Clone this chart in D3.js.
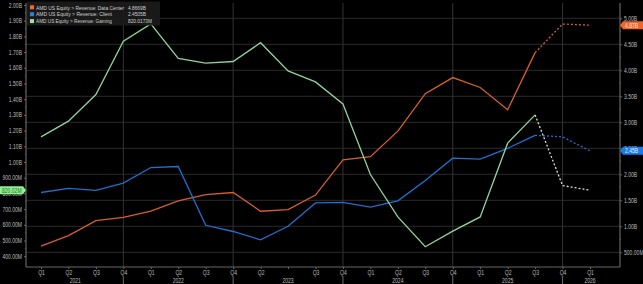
<!DOCTYPE html>
<html>
<head>
<meta charset="utf-8">
<script src="https://cdn.jsdelivr.net/npm/d3@7"></script>
<style>
  html, body { margin: 0; padding: 0; background: #000; }
  svg { display: block; }
  text { font-family: "Liberation Sans", Arial, sans-serif; }
</style>
</head>
<body>
<script>
// chart size
let width = 643,
    height = 284;

// x axis: one slot per quarter, Q1 2021 .. Q1 2026
var quarterLabels = ["Q1","Q2","Q3","Q4","Q1","Q2","Q3","Q4","Q2","","Q3","Q4","Q1","Q2","Q3","Q4","Q1","Q2","Q3","Q4","Q1"];
var yearLabels = [
    { label: "2021", at: 1.25 },
    { label: "2022", at: 5 },
    { label: "2023", at: 9 },
    { label: "2024", at: 13 },
    { label: "2025", at: 17 },
    { label: "2026", at: 20 }
];
var yearBreaks = [3, 7, 11, 15, 19];

// reported revenue ($B), Q1 2021 .. Q3 2025
var dataCenter = [0.62,0.82,1.11,1.17,1.29,1.49,1.61,1.65,1.29,1.32,1.60,2.28,2.34,2.83,3.55,3.86,3.67,3.24,4.34];
var client     = [1.65,1.73,1.69,1.83,2.13,2.15,1.02,0.90,0.74,1.00,1.45,1.46,1.37,1.49,1.88,2.31,2.29,2.50,2.75];
var gaming     = [1.16,1.26,1.43,1.77,1.88,1.66,1.63,1.64,1.76,1.58,1.51,1.37,0.92,0.65,0.46,0.56,0.65,1.12,1.30];

// estimates, Q3 2025 .. Q1 2026 (dotted)
var dataCenterEst = [4.34, 4.89, 4.8669];
var clientEst     = [2.75, 2.72, 2.4505];
var gamingEst     = [1.30, 0.85, 0.8200173];
var estStart = 18;

// axis ticks
var leftTicks  = d3.range(4, 21).map(d => d / 10);
var leftMinor  = d3.range(4, 20).map(d => d / 10 + 0.05);
var rightTicks = d3.range(1, 11).map(d => d / 2);
var rightMinor = d3.range(1, 10).map(d => d / 2 + 0.25);

var legendRows = [
    { name: "AMD US Equity > Revenue: Data Center", value: "4.8669B",   color: "#f26b2a" },
    { name: "AMD US Equity > Revenue: Client",      value: "2.4505B",   color: "#2b7fe0" },
    { name: "AMD US Equity > Revenue: Gaming",      value: "820.0173M", color: "#9de29f" }
];

var orange = "#d65f2f", blue = "#1f70d2", green = "#8fd39b", greenEst = "#cfe6d0";
var axisCol = "#666", gridCol = "#2b2b2b", textCol = "#bdbdbd";

var plotLeft = 26, plotRight = 620, plotTop = 3, plotBottom = 267;

var x = d3.scaleLinear().domain([0, 20]).range([41, 590]);
var yL = d3.scaleLinear().domain([1.0, 2.0]).range([162, 5]);
var yR = d3.scaleLinear().domain([0.5, 5.0]).range([252.3, 18.3]);

function fmt(v) {
    return v >= 1 ? v.toFixed(2) + "B" : (v * 1000).toFixed(2) + "M";
}

// bloomberg type is narrow, squeeze the text horizontally
function squeeze(sel, k) {
    sel.each(function() {
        var w = this.getComputedTextLength();
        if (w > 0) d3.select(this).attr('textLength', w * k).attr('lengthAdjust', 'spacingAndGlyphs');
    });
}

var svg = d3.select('body').append('svg')
    .attr('width', width)
    .attr('height', height);

svg.append('rect').attr('width', width).attr('height', height).attr('fill', '#000');

// horizontal grid follows right axis
svg.append('g').selectAll('line')
    .data(rightTicks)
    .enter().append('line')
    .attr('x1', plotLeft).attr('x2', plotRight)
    .attr('y1', d => yR(d)).attr('y2', d => yR(d))
    .attr('stroke', gridCol).attr('stroke-width', 1);

// vertical grid at year breaks
svg.append('g').selectAll('line')
    .data(yearBreaks)
    .enter().append('line')
    .attr('x1', d => x(d)).attr('x2', d => x(d))
    .attr('y1', plotTop).attr('y2', plotBottom)
    .attr('stroke', '#333').attr('stroke-width', 1);

// left axis
var gL = svg.append('g').attr('transform', `translate(${plotLeft},0)`);
gL.call(d3.axisLeft(yL).tickValues(leftTicks).tickFormat(fmt).tickSize(2).tickPadding(2));
gL.append('g').selectAll('line').data(leftMinor).enter().append('line')
    .attr('x1', -1).attr('x2', 0).attr('y1', d => yL(d)).attr('y2', d => yL(d))
    .attr('stroke', axisCol);

// right axis
var gR = svg.append('g').attr('transform', `translate(${plotRight},0)`);
gR.call(d3.axisRight(yR).tickValues(rightTicks).tickFormat(fmt).tickSize(2).tickPadding(2));
gR.append('g').selectAll('line').data(rightMinor).enter().append('line')
    .attr('x1', 0).attr('x2', 1).attr('y1', d => yR(d)).attr('y2', d => yR(d))
    .attr('stroke', axisCol);

// bottom axis
var gB = svg.append('g').attr('transform', `translate(0,${plotBottom})`);
gB.call(d3.axisBottom(x).tickValues(d3.range(0, 21)).tickFormat(i => quarterLabels[i]).tickSize(2).tickPadding(2));

[gL, gR, gB].forEach(g => {
    g.select('.domain').attr('stroke', axisCol).attr('stroke-width', 1.2);
    g.selectAll('.tick line').attr('stroke', axisCol);
    g.selectAll('.tick text').attr('fill', textCol).attr('font-size', 6.3).call(squeeze, 0.8);
});
gL.select('.domain').attr('d', `M0,${plotTop}V${plotBottom}`);
gR.select('.domain').attr('d', `M0,${plotTop}V${plotBottom}`);
gB.select('.domain').attr('d', `M${plotLeft},0H${plotRight}`);

// year labels and separators
svg.append('g').selectAll('text')
    .data(yearLabels)
    .enter().append('text')
    .attr('x', d => x(d.at)).attr('y', 282.5)
    .attr('text-anchor', 'middle')
    .attr('fill', textCol).attr('font-size', 6.3)
    .text(d => d.label)
    .call(squeeze, 0.8);
svg.append('g').selectAll('line')
    .data(yearBreaks)
    .enter().append('line')
    .attr('x1', d => x(d)).attr('x2', d => x(d))
    .attr('y1', 277).attr('y2', 284)
    .attr('stroke', '#888').attr('stroke-width', 0.8);

// series
function drawSeries(values, est, scale, color, estColor) {
    var line = d3.line().x(d => x(d[0])).y(d => scale(d[1]));
    svg.append('path')
        .datum(values.map((v, i) => [i, v]))
        .attr('d', line)
        .attr('fill', 'none').attr('stroke', color).attr('stroke-width', 1.3);
    svg.append('path')
        .datum(est.map((v, i) => [estStart + i, v]))
        .attr('d', line)
        .attr('fill', 'none').attr('stroke', estColor).attr('stroke-width', 1.3)
        .attr('stroke-dasharray', '2,2');
}
drawSeries(dataCenter, dataCenterEst, yR, orange, orange);
drawSeries(client, clientEst, yR, blue, blue);
drawSeries(gaming, gamingEst, yL, green, greenEst);

// last value tags
function rightTag(v, fill, txt) {
    var cy = yR(v);
    svg.append('path')
        .attr('d', `M${plotRight},${cy} L${plotRight + 3},${cy - 4} H643 V${cy + 4} H${plotRight + 3} Z`)
        .attr('fill', fill);
    svg.append('text')
        .attr('x', plotRight + 5).attr('y', cy + 2.3)
        .attr('fill', txt).attr('font-size', 6.3)
        .text(fmt(v))
        .call(squeeze, 0.8);
}
rightTag(dataCenterEst[2], "#f0652a", "#fde3d6");
rightTag(clientEst[2], "#1a7ae8", "#e6f0ff");

var gy = yL(gamingEst[2]);
svg.append('path')
    .attr('d', `M0,${gy - 4} H${plotLeft - 3} L${plotLeft},${gy} L${plotLeft - 3},${gy + 4} H0 Z`)
    .attr('fill', '#8ff08f');
svg.append('text')
    .attr('x', 2).attr('y', gy + 2.3)
    .attr('fill', '#2f6b35').attr('font-size', 6.3)
    .text(fmt(gamingEst[2]))
    .call(squeeze, 0.8);

// legend
var leg = svg.append('g');
leg.append('rect')
    .attr('x', 27).attr('y', 1.5).attr('width', 133).attr('height', 24)
    .attr('fill', '#1b1b1b').attr('fill-opacity', 0.92);
var rows = leg.selectAll('g.row')
    .data(legendRows)
    .enter().append('g')
    .attr('transform', (d, i) => `translate(0,${7.3 + i * 6.9})`);
rows.append('rect')
    .attr('x', 30).attr('y', -2).attr('width', 4).attr('height', 4)
    .attr('fill', d => d.color);
rows.append('text')
    .attr('x', 36).attr('y', 2.2)
    .attr('fill', '#d0d0d0').attr('font-size', 6)
    .attr('textLength', d => d.name.length * 2.45).attr('lengthAdjust', 'spacingAndGlyphs')
    .text(d => d.name);
rows.append('text')
    .attr('x', 128).attr('y', 2.2)
    .attr('fill', '#d0d0d0').attr('font-size', 6)
    .text(d => d.value)
    .call(squeeze, 0.8);
</script>
</body>
</html>
